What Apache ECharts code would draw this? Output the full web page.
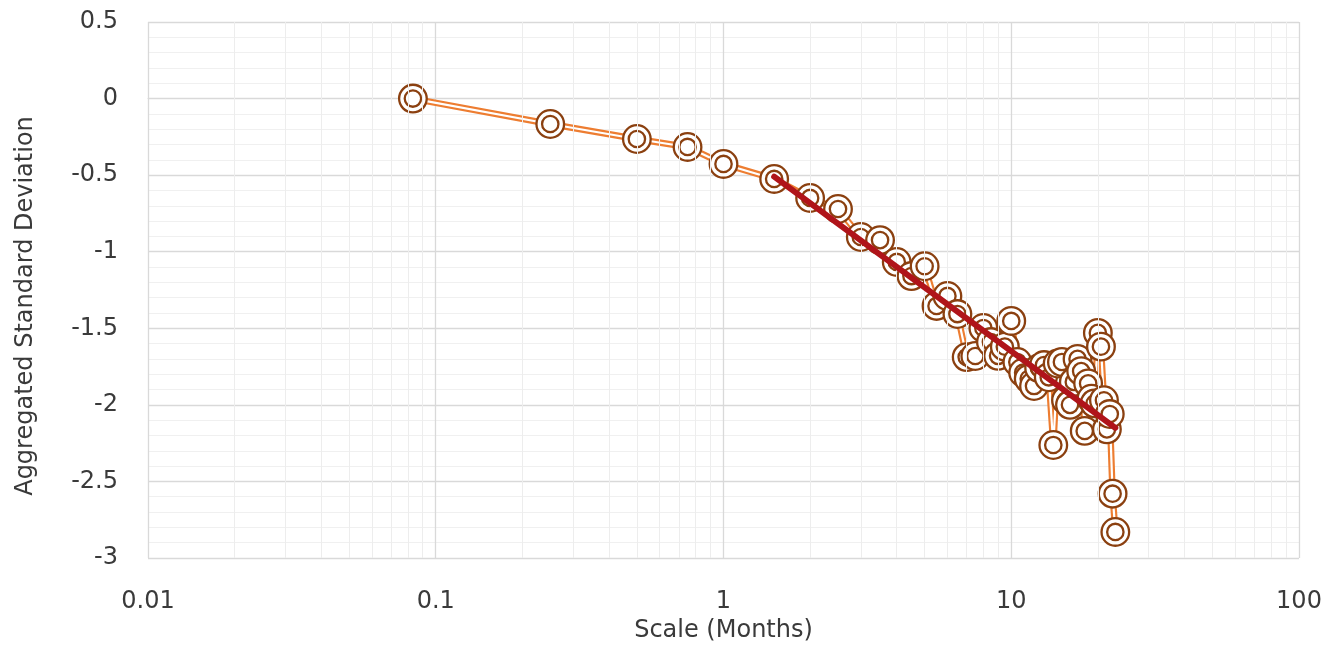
<!DOCTYPE html>
<html>
<head>
<meta charset="utf-8">
<title>Aggregated Standard Deviation vs Scale</title>
<script src="https://cdn.jsdelivr.net/npm/echarts@6/dist/echarts.min.js"></script>
<style>
  html, body { margin: 0; padding: 0; background: #ffffff; }
  #chart { width: 1342px; height: 649px; }
</style>
</head>
<body>
<div id="chart"></div>
<script>
// Aggregation scale in months
const scaleMonths = [
  0.0833, 0.25, 0.5, 0.75, 1,
  1.5, 2, 2.5, 3, 3.5, 4, 4.5, 5, 5.5, 6, 6.5, 7, 7.5, 8, 8.5, 9, 9.5, 10,
  10.5, 11, 11.5, 12, 12.5, 13, 13.5, 14, 14.5, 15, 15.5, 16, 16.5, 17, 17.5,
  18, 18.5, 19, 19.5, 20, 20.5, 21, 21.5, 22, 22.5, 23
];
// Aggregated standard deviation at each scale
const aggStdDev = [
  0.00, -0.166, -0.264, -0.316, -0.427,
  -0.525, -0.649, -0.721, -0.904, -0.924, -1.067, -1.159, -1.095, -1.354, -1.289, -1.407,
  -1.688, -1.681, -1.498, -1.59, -1.68, -1.62, -1.452,
  -1.72, -1.79, -1.83, -1.877, -1.76, -1.74, -1.82, -2.262, -1.73, -1.72, -1.97,
  -2.0, -1.85, -1.70, -1.78, -2.17, -1.86, -1.96, -1.99, -1.53, -1.62, -1.97,
  -2.16, -2.06, -2.58, -2.83
];
// Fitted trend line (straight on the log axis)
const trendX = [1.5, 23];
const trendY = [-0.51, -2.15];
// Minor gridlines for the log axis
const minorXLines = [
  0.02, 0.03, 0.04, 0.05, 0.06, 0.07, 0.08, 0.09,
  0.2, 0.3, 0.4, 0.5, 0.6, 0.7, 0.8, 0.9,
  2, 3, 4, 5, 6, 7, 8, 9,
  20, 30, 40, 50, 60, 70, 80, 90
];

const points = scaleMonths.map((x, i) => [x, aggStdDev[i]]);
const trend = trendX.map((x, i) => [x, trendY[i]]);

const FONT = 'DejaVu Sans';
const TEXT = '#3a3a3a';
const RING = '#8B4010';

// each point is a white disc with two concentric brown rings
function renderRing(params, api) {
  const c = api.coord([api.value(0), api.value(1)]);
  return {
    type: 'group',
    children: [
      { type: 'circle', shape: { cx: c[0], cy: c[1], r: 13.8 },
        style: { fill: '#ffffff', stroke: RING, lineWidth: 2.3 } },
      { type: 'circle', shape: { cx: c[0], cy: c[1], r: 8.2 },
        style: { fill: 'none', stroke: RING, lineWidth: 2.3 } }
    ]
  };
}

const chart = echarts.init(document.getElementById('chart'), null, { renderer: 'canvas' });
chart.setOption({
  animation: false,
  backgroundColor: '#ffffff',
  grid: { left: 148, right: 43, top: 22, bottom: 91, containLabel: false },
  xAxis: {
    type: 'log',
    logBase: 10,
    min: 0.01,
    max: 100,
    name: 'Scale (Months)',
    nameLocation: 'middle',
    nameGap: 60,
    nameTextStyle: { fontFamily: FONT, fontSize: 24, color: TEXT },
    axisLine: { show: true, lineStyle: { color: '#D9D9D9', width: 1 } },
    axisTick: { show: false },
    axisLabel: { fontFamily: FONT, fontSize: 24, color: TEXT, margin: 32 },
    splitLine: { show: true, lineStyle: { color: '#D9D9D9', width: 1.3 } }
  },
  yAxis: {
    type: 'value',
    min: -3,
    max: 0.5,
    interval: 0.5,
    name: 'Aggregated Standard Deviation',
    nameLocation: 'middle',
    nameGap: 110,
    nameTextStyle: { fontFamily: FONT, fontSize: 24, color: TEXT, padding: [0, 32, 0, 0] },
    axisLine: { show: false },
    axisTick: { show: false },
    axisLabel: { fontFamily: FONT, fontSize: 24, color: TEXT, margin: 30 },
    splitLine: { show: true, lineStyle: { color: '#D9D9D9', width: 1.3 } },
    minorTick: { show: false, splitNumber: 5 },
    minorSplitLine: { show: true, lineStyle: { color: '#F0F0F0', width: 1 } }
  },
  series: [
    {
      name: 'minor-grid',
      type: 'line',
      z: 1,
      data: trend,
      showSymbol: false,
      lineStyle: { opacity: 0 },
      silent: true,
      markLine: {
        silent: true,
        symbol: ['none', 'none'],
        label: { show: false },
        lineStyle: { color: '#EDEDED', type: 'solid', width: 1 },
        data: minorXLines.map(v => ({ xAxis: v }))
      }
    },
    {
      name: 'series-outer',
      type: 'line',
      z: 2,
      data: points,
      showSymbol: false,
      lineStyle: { color: '#ED7D31', width: 6.5 }
    },
    {
      name: 'series-inner',
      type: 'line',
      z: 3,
      data: points,
      showSymbol: false,
      lineStyle: { color: '#ffffff', width: 2.2 }
    },
    {
      name: 'Aggregated Standard Deviation',
      type: 'custom',
      z: 4,
      data: points,
      encode: { x: 0, y: 1 },
      renderItem: renderRing
    },
    {
      name: 'Trend',
      type: 'line',
      z: 5,
      data: trend,
      showSymbol: false,
      lineStyle: { color: '#B0141A', width: 6, cap: 'round' }
    }
  ]
});
</script>
</body>
</html>
